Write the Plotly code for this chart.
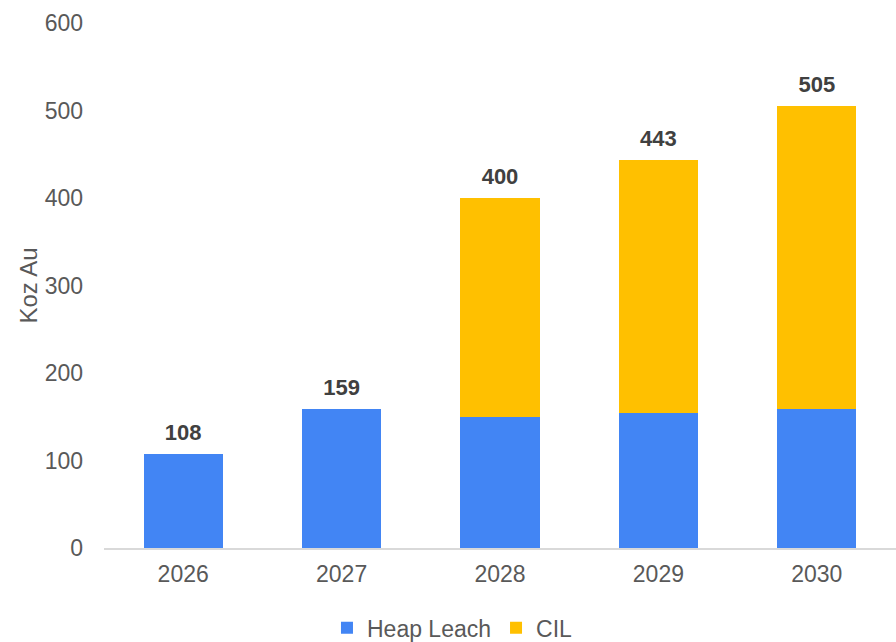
import plotly.graph_objects as go

years = ["2026", "2027", "2028", "2029", "2030"]
heap_leach = [108, 159, 150, 154, 159]
cil = [0, 0, 250, 289, 346]
totals = [h + c for h, c in zip(heap_leach, cil)]
y_ticks = [0, 100, 200, 300, 400, 500, 600]

FONT = "Liberation Sans, Arial, sans-serif"
GREY = "#595959"

fig = go.Figure()
fig.add_trace(go.Bar(x=years, y=heap_leach, name="Heap Leach",
                     marker=dict(color="#4285f4", line=dict(width=0))))
fig.add_trace(go.Bar(x=years, y=cil, name="CIL",
                     marker=dict(color="#ffc000", line=dict(width=0))))
fig.add_trace(go.Scatter(x=years, y=totals, mode="markers+text",
                         marker=dict(size=12, opacity=0),
                         text=[str(t) for t in totals],
                         textposition="top center",
                         textfont=dict(family=FONT, size=22, color="#404040", weight="bold"),
                         showlegend=False, hoverinfo="skip"))

fig.update_layout(
    barmode="stack",
    bargap=0.5,
    width=896, height=642,
    margin=dict(l=104, r=0, t=23, b=94, autoexpand=False),
    plot_bgcolor="white", paper_bgcolor="white",
    font=dict(family=FONT, size=24, color=GREY),
    showlegend=True,
    legend=dict(orientation="h", x=0.44, xanchor="center", y=-0.152, yanchor="middle",
                font=dict(size=23, color=GREY), traceorder="normal",
                itemwidth=30),
    xaxis=dict(showgrid=False, showline=True, linecolor="#d9d9d9", linewidth=2,
               ticks="", tickfont=dict(size=23, color=GREY), ticklabelstandoff=4),
    yaxis=dict(range=[0, 600], tickvals=y_ticks, showgrid=False, zeroline=False,
               showline=False, ticks="", tickfont=dict(size=23, color=GREY),
               ticklabelstandoff=20,
               title=dict(text="Koz Au", font=dict(size=24, color=GREY), standoff=0)),
)

fig.write_html("out.html")
